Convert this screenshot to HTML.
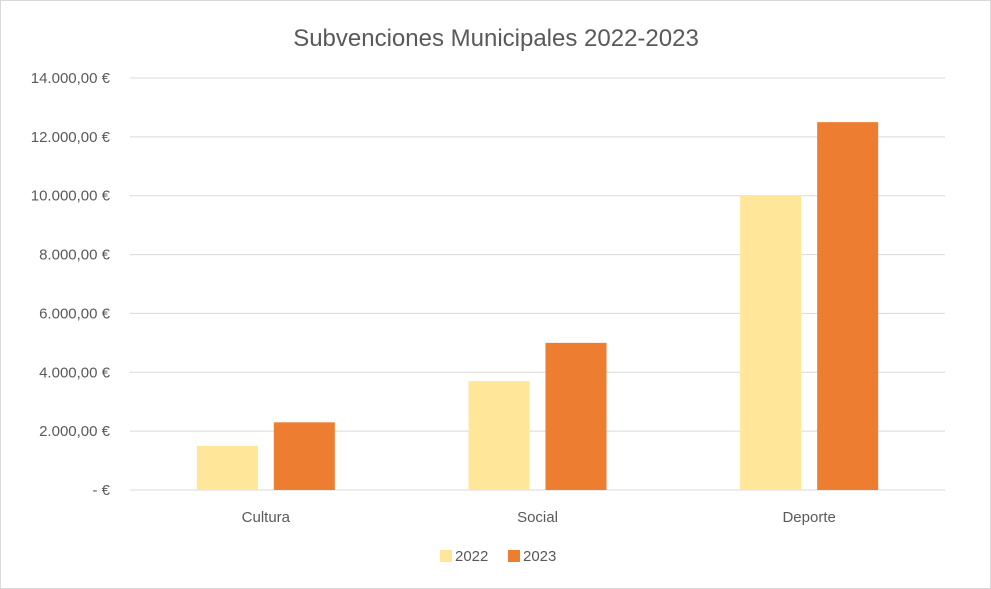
<!DOCTYPE html>
<html><head><meta charset="utf-8"><style>
html,body{margin:0;padding:0;background:#fff;}
svg{display:block;font-family:"Liberation Sans",sans-serif;}
</style></head><body>
<svg id="c" width="991" height="589">
<rect x="0.5" y="0.5" width="990" height="588" fill="#fff" stroke="#d9d9d9"/>
<text x="496" y="46" text-anchor="middle" font-size="24" fill="#595959">Subvenciones Municipales 2022-2023</text>
</svg>
<script>
const categories=["Cultura","Social","Deporte"];
const series2022=[1500,3700,10000];
const series2023=[2300,5000,12500];
const yTicks=[0,2000,4000,6000,8000,10000,12000,14000];
const yTickLabels=["-  €","2.000,00 €","4.000,00 €","6.000,00 €","8.000,00 €","10.000,00 €","12.000,00 €","14.000,00 €"];
const seriesNames=["2022","2023"];
const colors=["#FFE699","#ED7D31"];
const svg=document.getElementById('c');
const NS="http://www.w3.org/2000/svg";
const x0=130,x1=945,yBase=490,yTop=78,yMax=14000;
const y=v=>yBase-(v/yMax)*(yBase-yTop);
const band=(x1-x0)/categories.length;
function mk(t,a,txt){const e=document.createElementNS(NS,t);for(const k in a)e.setAttribute(k,a[k]);if(txt!==undefined)e.textContent=txt;svg.appendChild(e);return e;}
yTicks.forEach((t,i)=>{
 const g=mk('line',{x1:x0,x2:x1,y1:y(t),y2:y(t),stroke:'#d9d9d9','stroke-width':1});
 
 
 const l=mk('text',{x:110,y:y(t)+5,'text-anchor':'end','font-size':15,fill:'#595959'},yTickLabels[i]);
 
 
});
const bw=61,gap=16;
[series2022,series2023].forEach((s,si)=>{
 s.forEach((v,ci)=>{
  const cx=x0+band*(ci+0.5);
  const bx=si===0?cx-gap/2-bw:cx+gap/2;
  const r=mk('rect',{x:bx,y:y(v),width:bw,height:yBase-y(v),fill:colors[si]});
  
  
 });
});
categories.forEach((c,ci)=>{
 const t=mk('text',{x:x0+band*(ci+0.5),y:522,'text-anchor':'middle','font-size':15,fill:'#595959'},c);
 
 
});
const lx=[440,508];
seriesNames.forEach((n,i)=>{
 const r=mk('rect',{x:lx[i],y:550,width:12,height:12,fill:colors[i]});
 
 
 const t=mk('text',{x:lx[i]+15,y:561,'font-size':15,fill:'#595959'},n);
 
 
});
</script>
</body></html>
